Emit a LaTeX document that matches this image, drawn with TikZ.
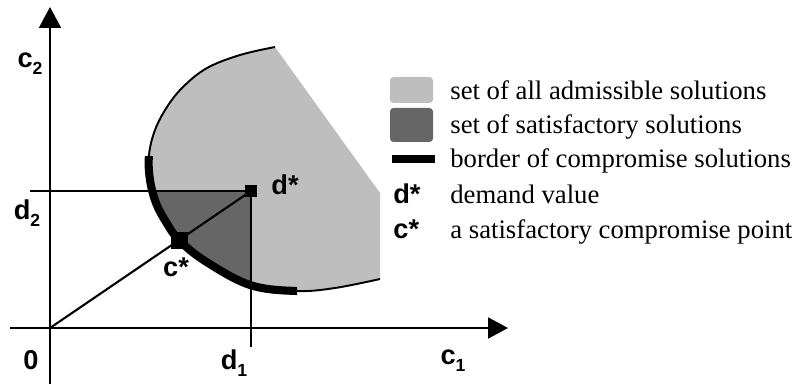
\documentclass[tikz,border=0pt]{standalone}
\usepackage{fontspec}
\setmainfont{Liberation Serif}
\newfontfamily\lblfont{Liberation Sans}
\usetikzlibrary{arrows.meta}
\definecolor{admiss}{RGB}{190,190,190}
\definecolor{satisf}{RGB}{102,102,102}
\newcommand{\sublbl}[2]{#1\raisebox{-0.5ex}{\fontsize{10}{10}\selectfont #2}}

\begin{document}
\begin{tikzpicture}[every node/.style={font=\fontsize{15.2}{18}\selectfont},
   lbl/.style={font=\lblfont\bfseries\fontsize{15.5}{18}\selectfont, inner sep=0pt},
   axis/.style={line width=1.1pt},
   guide/.style={line width=0.9pt},
   rim/.style={insert path={plot[smooth, tension=0.6] coordinates {
      (4.50,5.62) (3.80,5.46) (3.14,5.20) (2.66,4.82) (2.34,4.42) (2.10,3.96)
      (1.98,3.46) (2.00,2.96) (2.12,2.50) (2.32,2.12) (2.58,1.76) (3.10,1.34)
      (4.00,0.86) (4.94,0.74) (5.70,0.80) (6.60,0.98)}}},
   pt/.style={rectangle, fill=black, inner sep=0pt},
   swatch/.style={rectangle, rounded corners=2pt, minimum width=0.86cm, inner sep=0pt}]
  \useasboundingbox (-1,-1.12) rectangle (15,6.56);

  \coordinate (O) at (0,0);
  \coordinate (dpt) at (4.02,2.74);
  \coordinate (cpt) at (2.58,1.76);
  \coordinate (xend) at (9.16,0);
  \coordinate (xstart) at (-0.8,0);
  \coordinate (yend) at (0,6.42);
  \coordinate (ystart) at (0,-1.12);
  \coordinate (d2start) at (-0.4,2.74);
  \coordinate (d1end) at (4.02,-0.38);

  % admissible and satisfactory sets
  \fill[admiss, rim] -- (6.60,2.70) -- cycle;
  \begin{scope}
    \clip (O) rectangle (dpt);
    \fill[satisf, rim] -- (6.60,2.70) -- cycle;
  \end{scope}
  \draw[line width=1.1pt, rim];
  % border of compromise solutions
  \begin{scope}
    \clip (-1,-1) rectangle (4.94,3.42);
    \draw[line width=4.6pt, rim];
  \end{scope}

  % guide lines
  \draw[guide] (d2start) -- (dpt);
  \draw[guide] (dpt) -- (d1end);
  \draw[line width=1.2pt] (O) -- (dpt);

  % axes
  \draw[axis, -{Triangle[length=0.42cm, width=0.44cm]}] (ystart) -- (yend);
  \draw[axis, -{Triangle[length=0.40cm, width=0.42cm]}] (xstart) -- (xend);

  \node[pt, minimum size=0.24cm] (dstar) at (dpt) {};
  \node[pt, minimum size=0.34cm] (cstar) at (cpt) {};

  \node[lbl] (c2) at (-0.40,5.28) {\sublbl{c}{2}};
  \node[lbl] (d2) at (-0.46,2.30) {\sublbl{d}{2}};
  \node[lbl] (zero) at (-0.38,-0.64) {0};
  \node[lbl] (d1) at (3.68,-0.70) {\sublbl{d}{1}};
  \node[lbl] (c1) at (8.06,-0.66) {\sublbl{c}{1}};
  \node[lbl] (cslbl) at (2.52,1.22) {c*};
  \node[lbl] (dslbl) at (4.70,2.86) {d*};

  % legend
  \node[swatch, fill=admiss, minimum height=0.52cm] (sw1) at (7.23,4.76) {};
  \node[swatch, fill=satisf, minimum height=0.68cm] (sw2) at (7.23,4.06) {};
  \node[rectangle, fill=black, minimum width=0.86cm, minimum height=0.16cm,
        inner sep=0pt] (sw3) at (7.27,3.38) {};
  \node[lbl, anchor=base west] (sw4) at (6.86,2.50) {d*};
  \node[lbl, anchor=base west] (sw5) at (6.86,1.80) {c*};
  \node[anchor=base west, inner sep=0pt] (t1) at (8.0,4.56) {set of all admissible solutions};
  \node[anchor=base west, inner sep=0pt] (t2) at (8.0,3.88) {set of satisfactory solutions};
  \node[anchor=base west, inner sep=0pt] (t3) at (8.0,3.20) {border of compromise solutions};
  \node[anchor=base west, inner sep=0pt] (t4) at (8.0,2.50) {demand value};
  \node[anchor=base west, inner sep=0pt] (t5) at (8.0,1.80) {a satisfactory compromise point};
\end{tikzpicture}
\end{document}
